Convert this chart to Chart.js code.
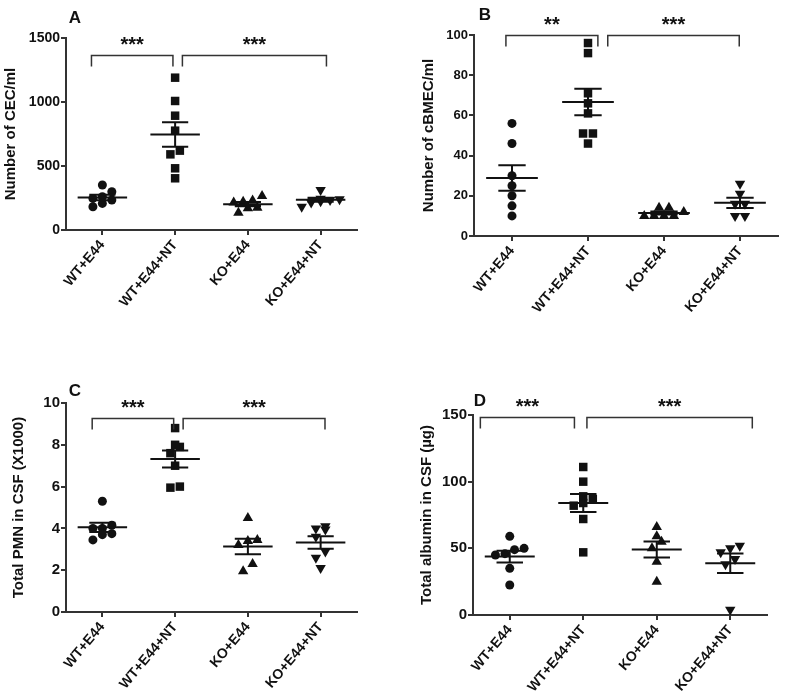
<!DOCTYPE html>
<html>
<head>
<meta charset="utf-8">
<script src="https://cdn.jsdelivr.net/npm/chart.js@4.4.1/dist/chart.umd.min.js"></script>
<style>
  html, body { margin: 0; padding: 0; background: #fff; }
  body { width: 792px; height: 699px; position: relative; overflow: hidden; }
  canvas { position: absolute; }
</style>
</head>
<body>
<canvas id="panelA" width="400" height="345" style="left:0;top:0"></canvas>
<canvas id="panelB" width="392" height="345" style="left:400px;top:0"></canvas>
<canvas id="panelC" width="400" height="354" style="left:0;top:345px"></canvas>
<canvas id="panelD" width="392" height="354" style="left:400px;top:345px"></canvas>
<script>
// groups on the x axis
const categories = ['WT+E44', 'WT+E44+NT', 'KO+E44', 'KO+E44+NT'];

// A - Number of CEC/ml
const cecWtE44 = [352, 299, 260, 247, 234, 208, 182];
const cecWtE44Nt = [1190, 1008, 893, 776, 620, 591, 482, 404];
const cecKoE44 = [266, 230, 221, 215, 174, 169, 135];
const cecKoE44Nt = [312, 245, 240, 235, 225, 215, 182];
const cecTicks = [0, 500, 1000, 1500];

// B - Number of cBMEC/ml
const bmecWtE44 = [56, 46, 30, 25, 20, 15, 10];
const bmecWtE44Nt = [96, 91, 71, 66, 61, 51, 51, 46];
const bmecKoE44 = [14, 14, 12, 10, 10, 10, 10];
const bmecKoE44Nt = [26, 21, 16, 16, 10, 10];
const bmecTicks = [0, 20, 40, 60, 80, 100];

// C - Total PMN in CSF (x1000)
const pmnWtE44 = [5.3, 4.15, 4.0, 4.0, 3.75, 3.7, 3.45];
const pmnWtE44Nt = [8.8, 8.0, 7.9, 7.6, 7.0, 6.0, 5.95];
const pmnKoE44 = [4.5, 3.45, 3.4, 3.2, 2.3, 1.95];
const pmnKoE44Nt = [4.1, 4.0, 3.95, 3.6, 2.9, 2.6, 2.1];
const pmnTicks = [0, 2, 4, 6, 8, 10];

// D - Total albumin in CSF (ug)
const albWtE44 = [59, 50, 49, 46, 45, 35, 22.5];
const albWtE44Nt = [111, 100, 89, 87, 84, 82, 72, 47];
const albKoE44 = [66, 59, 55, 50, 40, 25];
const albKoE44Nt = [52, 50, 47, 42, 38, 4];
const albTicks = [0, 50, 100, 150];

const ink = '#111';
const family = '"Liberation Sans", Arial, sans-serif';
const markers = [
  { style: 'circle', r: 4.5, rot: 0 },
  { style: 'rect', r: 6, rot: 0 },
  { style: 'triangle', r: 6, rot: 0 },
  { style: 'triangle', r: 6, rot: 180 }
];

// spread points of similar value sideways, like a column scatter
function swarm(vals, g, thr, dx) {
  const s = vals.slice().sort((a, b) => a - b);
  const pts = [];
  let i = 0;
  while (i < s.length) {
    let j = i;
    while (j < s.length && s[j] - s[i] < thr) j++;
    const n = j - i;
    for (let k = 0; k < n; k++) pts.push({ x: g + (k - (n - 1) / 2) * dx, y: s[i + k] });
    i = j;
  }
  return pts;
}

// mean +/- SEM bars
const meanSem = {
  id: 'meanSem',
  afterDatasetsDraw(chart) {
    const { ctx, scales: { x, y } } = chart;
    ctx.save();
    ctx.strokeStyle = ink;
    ctx.lineWidth = 2;
    chart.data.datasets.forEach((ds, g) => {
      const v = ds.data.map(p => p.y);
      const n = v.length;
      const mean = v.reduce((a, b) => a + b, 0) / n;
      const sd = Math.sqrt(v.reduce((a, b) => a + (b - mean) ** 2, 0) / (n - 1));
      const sem = sd / Math.sqrt(n);
      const ym = y.getPixelForValue(mean), yt = y.getPixelForValue(mean + sem), yb = y.getPixelForValue(mean - sem);
      const xc = x.getPixelForValue(g);
      ctx.beginPath();
      ctx.moveTo(x.getPixelForValue(g - 0.34), ym); ctx.lineTo(x.getPixelForValue(g + 0.34), ym);
      ctx.moveTo(x.getPixelForValue(g - 0.18), yt); ctx.lineTo(x.getPixelForValue(g + 0.18), yt);
      ctx.moveTo(x.getPixelForValue(g - 0.18), yb); ctx.lineTo(x.getPixelForValue(g + 0.18), yb);
      ctx.moveTo(xc, yt); ctx.lineTo(xc, yb);
      ctx.stroke();
    });
    ctx.restore();
  }
};

// panel letter and significance brackets
const marks = {
  id: 'marks',
  afterDraw(chart, args, opts) {
    const { ctx, chartArea: a, scales: { x, y } } = chart;
    ctx.save();
    ctx.fillStyle = ink;
    ctx.textAlign = 'center';
    ctx.textBaseline = 'middle';
    ctx.font = 'bold 17px ' + family;
    ctx.fillText(opts.letter, a.left + opts.letterAt[0], a.top + opts.letterAt[1]);
    ctx.strokeStyle = '#333';
    ctx.lineWidth = 1.5;
    ctx.font = 'bold 20px ' + family;
    ctx.textBaseline = 'alphabetic';
    opts.brackets.forEach(b => {
      const x1 = x.getPixelForValue(b.from), x2 = x.getPixelForValue(b.to);
      const yy = Math.round(y.getPixelForValue(b.y)) + 0.5;
      ctx.beginPath();
      ctx.moveTo(x1, yy + 11); ctx.lineTo(x1, yy); ctx.lineTo(x2, yy); ctx.lineTo(x2, yy + 11);
      ctx.stroke();
      ctx.fillText(b.label, (x1 + x2) / 2, yy - 5);
    });
    ctx.restore();
  }
};

function makePanel(id, p) {
  const [ox, oy, w, h] = p.box;
  const a = p.area;
  const titleSize = 15;
  const yLeft = p.titleX - titleSize * 0.6 - ox;
  const range = p.ticks[p.ticks.length - 1];
  const thr = range * 8 / (a.bottom - a.top);
  const datasets = p.series.map((vals, g) => ({
    data: swarm(vals, g, thr, 0.13),
    pointStyle: markers[g].style,
    pointRotation: markers[g].rot,
    pointRadius: markers[g].r,
    pointBackgroundColor: ink,
    pointBorderWidth: 0,
    showLine: false
  }));
  new Chart(document.getElementById(id), {
    type: 'scatter',
    data: { datasets },
    options: {
      responsive: false,
      animation: false,
      layout: { padding: { left: yLeft, top: a.top - oy, right: ox + w - a.right, bottom: 0 } },
      plugins: {
        legend: { display: false },
        tooltip: { enabled: false },
        marks: { letter: p.letter, letterAt: p.letterAt, brackets: p.brackets }
      },
      scales: {
        x: {
          type: 'linear', min: -0.5, max: 3.5,
          afterBuildTicks: s => { s.ticks = categories.map((c, i) => ({ value: i })); },
          afterFit: s => { s.height = oy + h - a.bottom; },
          ticks: {
            callback: v => categories[v], minRotation: 50, maxRotation: 50, autoSkip: false,
            color: ink, padding: 2, font: { family, size: 14, weight: 'bold' }
          },
          grid: { drawOnChartArea: false, tickLength: 5, color: '#333', lineWidth: 2 },
          border: { color: '#333', width: 2 }
        },
        y: {
          min: 0, max: range,
          afterBuildTicks: s => { s.ticks = p.ticks.map(v => ({ value: v })); },
          afterFit: s => { s.width = a.left - ox - yLeft; },
          ticks: { callback: v => String(v), color: ink, padding: 1, font: { family, size: p.tickSize, weight: 'bold' } },
          title: { display: true, text: p.yTitle, color: ink, padding: 0, font: { family, size: titleSize, weight: 'bold' } },
          grid: { drawOnChartArea: false, tickLength: 5, color: '#333', lineWidth: 2 },
          border: { color: '#333', width: 2 }
        }
      }
    },
    plugins: [meanSem, marks]
  });
}

window.onload = function () {
  makePanel('panelA', {
    box: [0, 0, 400, 345], area: { left: 66, top: 38, right: 357, bottom: 230 }, titleX: 11,
    series: [cecWtE44, cecWtE44Nt, cecKoE44, cecKoE44Nt], ticks: cecTicks, tickSize: 14,
    yTitle: 'Number of CEC/ml', letter: 'A', letterAt: [9, -20],
    brackets: [{ from: -0.15, to: 0.97, y: 1367, label: '***' }, { from: 1.1, to: 3.08, y: 1367, label: '***' }]
  });
  makePanel('panelB', {
    box: [400, 0, 392, 345], area: { left: 474, top: 35, right: 778, bottom: 236 }, titleX: 429,
    series: [bmecWtE44, bmecWtE44Nt, bmecKoE44, bmecKoE44Nt], ticks: bmecTicks, tickSize: 13,
    yTitle: 'Number of cBMEC/ml', letter: 'B', letterAt: [11, -20],
    brackets: [{ from: -0.08, to: 1.13, y: 100, label: '**' }, { from: 1.26, to: 2.99, y: 100, label: '***' }]
  });
  makePanel('panelC', {
    box: [0, 345, 400, 354], area: { left: 66, top: 403, right: 357, bottom: 612 }, titleX: 19,
    series: [pmnWtE44, pmnWtE44Nt, pmnKoE44, pmnKoE44Nt], ticks: pmnTicks, tickSize: 15,
    yTitle: 'Total PMN in CSF (X1000)', letter: 'C', letterAt: [9, -12],
    brackets: [{ from: -0.14, to: 0.98, y: 9.28, label: '***' }, { from: 1.11, to: 3.06, y: 9.28, label: '***' }]
  });
  makePanel('panelD', {
    box: [400, 345, 392, 354], area: { left: 473, top: 415, right: 767, bottom: 615 }, titleX: 427,
    series: [albWtE44, albWtE44Nt, albKoE44, albKoE44Nt], ticks: albTicks, tickSize: 15,
    yTitle: 'Total albumin in CSF (\u00b5g)', letter: 'D', letterAt: [7, -14],
    brackets: [{ from: -0.4, to: 0.88, y: 148.3, label: '***' }, { from: 1.05, to: 3.3, y: 148.3, label: '***' }]
  });
};
</script>
</body>
</html>
